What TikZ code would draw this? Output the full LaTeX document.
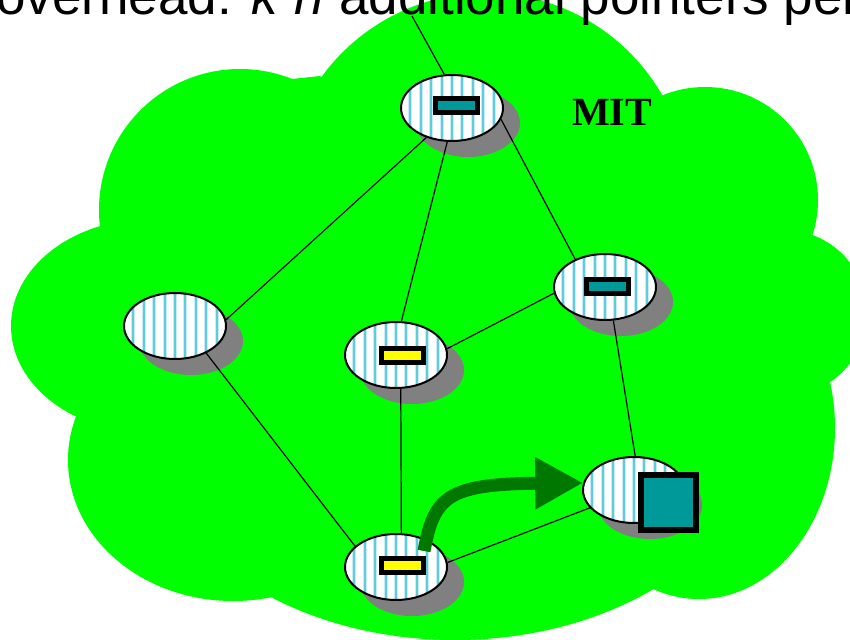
\documentclass[tikz,border=0pt]{standalone}
\usepackage{fontspec}
\setmainfont{Liberation Sans}
\newfontfamily\serifbold{Liberation Serif}
\usetikzlibrary{calc,arrows.meta,shapes.geometric}
\pgfdeclarelayer{cloudlayer}
\pgfdeclarelayer{shadelayer}
\pgfdeclarelayer{edgelayer}
\pgfsetlayers{cloudlayer,shadelayer,edgelayer,main}
\definecolor{cloudgreen}{RGB}{0,255,0}
\definecolor{shadegray}{RGB}{128,128,128}
\definecolor{stripecyan}{RGB}{96,204,218}
\definecolor{stripelight}{RGB}{200,236,248}
\definecolor{tealbox}{RGB}{0,153,153}
\definecolor{yellowbox}{RGB}{255,255,0}
\definecolor{darkarrow}{RGB}{0,120,0}
\tikzset{
  site/.style={ellipse, draw=black, line width=2pt, fill=white,
    minimum width=102pt, minimum height=66pt, inner sep=0pt,
    path picture={
      \foreach \i in {-5,...,5}{
        \draw[stripelight, line width=4pt]
          ([xshift=\i*10.4pt]path picture bounding box.north) --
          ([xshift=\i*10.4pt]path picture bounding box.south);
        \draw[stripecyan, line width=2pt]
          ([xshift=\i*10.4pt]path picture bounding box.north) --
          ([xshift=\i*10.4pt]path picture bounding box.south);
      }}},
  ptrbox/.style={rectangle, draw=black, line width=5pt, minimum width=42pt,
    minimum height=14pt, inner sep=0pt},
  tealptr/.style={ptrbox, fill=tealbox},
  yellowptr/.style={ptrbox, fill=yellowbox},
  objbox/.style={rectangle, draw=black, line width=6pt, fill=tealbox,
    minimum width=55pt, minimum height=55pt, inner sep=0pt},
  edge/.style={draw=black, line width=1.2pt},
  shade/.style={fill=shadegray},
  cloud/.style={fill=cloudgreen}
}
\begin{document}
\begin{tikzpicture}[x=1pt,y=-1pt]
\useasboundingbox (0,0) rectangle (850,639);
\clip (0,0) rectangle (850,639);

% cloud
\begin{pgfonlayer}{cloudlayer}
\fill[cloud] (486,196) circle[radius=203pt];
\fill[cloud] (240,210) circle[radius=141pt];
\fill[cloud] (705,200) circle[radius=113pt];
\fill[cloud] (150,326) ellipse[x radius=139pt, y radius=107pt];
\fill[cloud] (784,313) circle[radius=83pt];
\fill[cloud] (699,428) ellipse[x radius=136pt, y radius=171pt];
\fill[cloud] (233,460) ellipse[x radius=165pt, y radius=141pt];
\fill[cloud] (455,420) ellipse[x radius=310pt, y radius=220pt];
\fill[cloud] (292,79) -- (320,76) -- (486,196) -- (240,210) -- cycle;
\fill[cloud] (150,250) -- (720,250) -- (720,500) -- (230,500) -- cycle;
\end{pgfonlayer}

% title (cut off at the top, as in the reference)
\node[anchor=base west, inner sep=0pt, font=\fontsize{53}{62}\selectfont] (title)
  at (-4,15) {overhead: \textit{k} \textit{n} additional pointers per};

\node[font=\serifbold\bfseries\fontsize{40}{46}\selectfont, inner sep=0pt] (mit) at (612,112) {MIT};

% sites
\node[site] (topn) at (452,108) {};
\node[site] (leftn) at (175,326) {};
\node[site] (midn) at (396,355) {};
\node[site] (rightn) at (605,287) {};
\node[site] (botn) at (396,567) {};
\node[site] (tgt) at (634,490) {};

% pointer boxes
\node[tealptr] (ptop) at (456.5,105.5) {};
\node[yellowptr] (pmid) at (402.5,355.5) {};
\node[tealptr] (pright) at (607.5,286.5) {};
\node[yellowptr] (pbot) at (402.5,565) {};
\node[objbox] (obj) at (668.5,502.5) {};

% shadows
\begin{pgfonlayer}{shadelayer}
\foreach \n in {topn,leftn,midn,rightn,botn,tgt}
  \fill[shade] ($(\n)+(16,15)$) ellipse[x radius=52pt, y radius=34pt];
\end{pgfonlayer}

% links
\coordinate (upend) at (412,16);
\begin{pgfonlayer}{edgelayer}
\draw[edge] (topn.103) -- (upend);
\draw[edge] (topn.229) -- (leftn.7);
\draw[edge] (topn.262) -- (midn.81);
\draw[edge] (topn.347) -- (rightn.137);
\draw[edge] (leftn.-41) -- (botn.153);
\draw[edge] (midn.-82) -- (botn.81);
\draw[edge] (midn.7) -- (rightn.187);
\draw[edge] (rightn.-76) -- (tgt.88);
\draw[edge] (botn.5) -- (tgt.202);
\end{pgfonlayer}

% forwarding arrow
\coordinate (astart) at (424,551);
\draw[darkarrow, line width=13pt, -{Triangle[length=48pt,width=49pt]}]
  (astart) .. controls (434,497) and (447,484) .. (tgt.172);
\end{tikzpicture}
\end{document}
